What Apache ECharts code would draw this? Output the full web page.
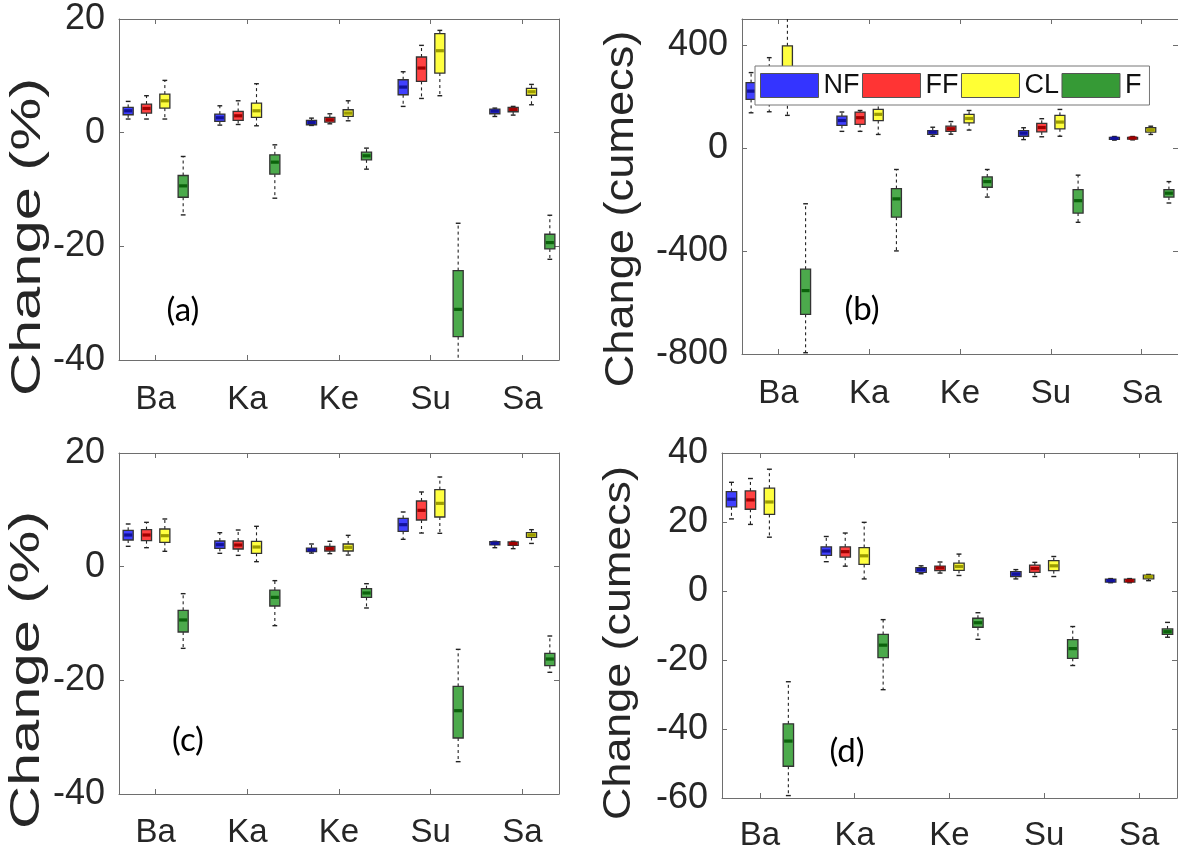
<!DOCTYPE html>
<html>
<head>
<meta charset="utf-8">
<script src="https://cdn.jsdelivr.net/npm/echarts@6/dist/echarts.min.js"></script>
<style>
  html, body { margin: 0; padding: 0; background: #fff; }
  #chart { width: 1178px; height: 856px; }
</style>
</head>
<body>
<div id="chart"></div>
<script>
// Stations along the x axis and the four scenarios drawn in each group
const stations = ['Ba', 'Ka', 'Ke', 'Su', 'Sa'];
const scenarios = ['NF', 'FF', 'CL', 'F'];

// Box statistics per station: [min, q1, median, q3, max]
// (a) change in %
const aNF = [[2.4, 3.15, 3.85, 4.44, 5.5], [1.33, 1.97, 2.62, 3.26, 4.73], [1.27, 1.39, 1.8, 2.15, 2.56], [4.62, 6.67, 8.02, 9.31, 10.72], [2.85, 3.33, 3.79, 4.15, 4.32]];
const aFF = [[2.4, 3.44, 4.26, 5.03, 6.5], [1.44, 2.15, 2.97, 3.73, 5.61], [1.56, 1.86, 2.27, 2.68, 3.32], [6.02, 9.02, 11.37, 13.31, 15.36], [3.09, 3.68, 4.09, 4.44, 4.62]];
const aCL = [[2.4, 4.32, 5.61, 6.79, 9.2], [1.21, 2.68, 3.85, 5.2, 8.61], [2.09, 2.86, 3.44, 4.03, 5.61], [6.5, 10.49, 14.42, 17.42, 18.0], [4.91, 6.58, 7.2, 7.79, 8.49]];
const aF = [[-14.47, -11.36, -9.36, -7.54, -4.19], [-11.53, -7.3, -5.19, -3.9, -2.14], [-6.42, -4.78, -4.07, -3.43, -2.72], [-42, -35.9, -31.09, -24.27, -15.94], [-22.28, -20.46, -19.34, -17.87, -14.53]];

// (b) change in cumecs
const bNF = [[136, 188, 220, 253, 292], [64, 87, 106, 123, 139], [45, 52, 61, 67, 80], [32, 45, 57, 67, 78], [30, 33, 37, 41, 44]];
const bFF = [[140, 195, 240, 290, 350], [64, 91, 117, 139, 145], [53, 64, 74, 84, 102], [43, 62, 79, 95, 113], [31, 34, 38, 41, 44]];
const bCL = [[126, 210, 290, 396, 520], [52, 106, 130, 149, 180], [69, 97, 114, 130, 145], [45, 74, 100, 126, 149], [52, 61, 70, 78, 84]];
const bF = [[-795, -646, -554, -471, -217], [-400, -269, -198, -158, -84], [-191, -153, -131, -113, -84], [-289, -253, -205, -162, -106], [-214, -191, -176, -162, -131]];

// (c) change in %
const cNF = [[3.58, 4.69, 5.57, 6.39, 7.51], [2.35, 3.23, 3.87, 4.52, 5.98], [2.39, 2.63, 2.93, 3.28, 3.99], [4.81, 6.22, 7.39, 8.5, 9.62], [3.34, 3.86, 4.11, 4.4, 4.46]];
const cFF = [[3.34, 4.57, 5.57, 6.51, 7.8], [1.99, 3.11, 3.81, 4.52, 6.45], [2.29, 2.76, 3.17, 3.58, 4.46], [5.92, 8.21, 9.91, 11.55, 13.14], [3.17, 3.74, 4.05, 4.34, 4.46]];
const cCL = [[2.7, 4.28, 5.45, 6.63, 8.39], [0.88, 2.35, 3.46, 4.46, 7.1], [2.05, 2.76, 3.4, 3.99, 5.51], [5.87, 8.74, 11.14, 13.55, 15.78], [4.09, 5.15, 5.57, 5.98, 6.51]];
const cF = [[-14.37, -11.5, -9.38, -7.68, -4.75], [-10.38, -6.92, -5.4, -4.11, -2.46], [-7.27, -5.4, -4.63, -3.87, -3.0], [-34.31, -30.15, -25.34, -21.06, -14.55], [-18.59, -17.42, -16.25, -15.25, -12.2]];

// (d) change in cumecs
const dNF = [[20.9, 24.4, 26.6, 28.8, 31.5], [8.5, 10.3, 11.6, 12.8, 15.8], [5.0, 5.4, 6.2, 6.8, 7.3], [3.5, 4.2, 4.9, 5.6, 6.2], [2.4, 2.6, 3.0, 3.4, 3.6]];
const dFF = [[19.3, 23.7, 26.4, 29.0, 32.6], [7.2, 9.8, 11.4, 12.8, 16.8], [5.2, 5.9, 6.7, 7.2, 8.4], [4.2, 5.4, 6.5, 7.5, 8.3], [2.4, 2.6, 3.0, 3.4, 3.6]];
const dCL = [[15.6, 22.2, 25.8, 29.8, 35.3], [3.5, 7.7, 10.2, 12.6, 19.9], [4.5, 6.0, 7.1, 8.1, 10.7], [4.2, 5.9, 7.3, 8.8, 10.0], [3.0, 3.5, 4.2, 4.6, 4.8]];
const dF = [[-59.3, -50.8, -43.5, -38.5, -26.3], [-28.6, -19.3, -15.7, -12.6, -8.3], [-14.0, -10.5, -9.2, -7.9, -6.3], [-21.6, -19.5, -16.7, -14.1, -10.3], [-13.4, -12.6, -11.8, -11.0, -9.1]];

// Y tick labels per panel
const pctTicks = [-40, -20, 0, 20];
const flowTicksB = [-800, -400, 0, 400];
const flowTicksD = [-60, -40, -20, 0, 20, 40];

// Styling
const boxFill = ['#4040ff', '#ff4242', '#ffff40', '#4caa4c'];
const medianColor = ['#12129a', '#a00000', '#9c9c00', '#0b620b'];
const legendFill = ['#3434ff', '#ff3434', '#ffff34', '#369a36'];
const axisGrey = '#6e6e6e';
const textDark = '#262626';

const panels = [
  { sets: [aNF, aFF, aCL, aF], min: -40, max: 20, ticks: pctTicks,
    grid: { left: 119, top: 19, width: 440, height: 341 }, labelMargin: 23 },
  { sets: [bNF, bFF, bCL, bF], min: -800, max: 500, ticks: flowTicksB,
    grid: { left: 742, top: 19, width: 440, height: 335 }, labelMargin: 23 },
  { sets: [cNF, cFF, cCL, cF], min: -40, max: 20, ticks: pctTicks,
    grid: { left: 119, top: 453, width: 440, height: 341 }, labelMargin: 22 },
  { sets: [dNF, dFF, dCL, dF], min: -60, max: 40, ticks: flowTicksD,
    grid: { left: 722, top: 453, width: 455, height: 345 }, labelMargin: 21 }
];

// Group centres: four boxes per station, one empty slot between stations
const groupCentres = stations.map((_, g) => 5 * g + 2.5);

function makeBoxRenderer(s) {
  return function (params, api) {
    const x = api.value(0);
    const lo = api.coord([x, api.value(1)]);
    const q1 = api.coord([x, api.value(2)]);
    const md = api.coord([x, api.value(3)]);
    const q3 = api.coord([x, api.value(4)]);
    const hi = api.coord([x, api.value(5)]);
    const unit = api.size([1, 0])[0];
    const bw = unit * 0.55;
    const cw = unit * 0.26;
    const cx = lo[0];
    const whisker = { stroke: '#222', lineWidth: 1.1, lineDash: [3, 3] };
    const cap = { stroke: '#222', lineWidth: 1.4 };
    return {
      type: 'group',
      children: [
        { type: 'line', shape: { x1: cx, y1: q3[1], x2: cx, y2: hi[1] }, style: whisker },
        { type: 'line', shape: { x1: cx, y1: q1[1], x2: cx, y2: lo[1] }, style: whisker },
        { type: 'line', shape: { x1: cx - cw / 2, y1: hi[1], x2: cx + cw / 2, y2: hi[1] }, style: cap },
        { type: 'line', shape: { x1: cx - cw / 2, y1: lo[1], x2: cx + cw / 2, y2: lo[1] }, style: cap },
        { type: 'rect', shape: { x: cx - bw / 2, y: q3[1], width: bw, height: Math.max(q1[1] - q3[1], 1) },
          style: { fill: boxFill[s], stroke: '#333', lineWidth: 1.3 } },
        { type: 'line', shape: { x1: cx - bw / 2 + 1, y1: md[1], x2: cx + bw / 2 - 1, y2: md[1] },
          style: { stroke: medianColor[s], lineWidth: 3.2 } }
      ]
    };
  };
}

const grid = [], xAxis = [], yAxis = [], series = [];
const tickFont = { fontFamily: 'Liberation Sans', color: textDark };

panels.forEach((p, i) => {
  grid.push(Object.assign({ containLabel: false }, p.grid));
  const baseX = {
    type: 'value', gridIndex: i, min: 0.5, max: 24.5,
    axisLine: { show: true, onZero: false, lineStyle: { color: axisGrey, width: 1 } },
    axisTick: { show: true, inside: true, length: 5, customValues: groupCentres, lineStyle: { color: axisGrey } },
    splitLine: { show: false }
  };
  xAxis.push(Object.assign({}, baseX, {
    position: 'bottom',
    axisLabel: Object.assign({
      show: true, fontSize: 33, margin: p.labelMargin, customValues: groupCentres,
      formatter: v => stations[Math.round((v - 2.5) / 5)]
    }, tickFont)
  }));
  xAxis.push(Object.assign({}, baseX, { position: 'top', axisLabel: { show: false } }));

  const baseY = {
    type: 'value', gridIndex: i, min: p.min, max: p.max,
    axisLine: { show: true, onZero: false, lineStyle: { color: axisGrey, width: 1 } },
    axisTick: { show: true, inside: true, length: 5, customValues: p.ticks, lineStyle: { color: axisGrey } },
    splitLine: { show: false }
  };
  yAxis.push(Object.assign({}, baseY, {
    position: 'left',
    axisLabel: Object.assign({ show: true, fontSize: 36, margin: 14, customValues: p.ticks }, tickFont)
  }));
  yAxis.push(Object.assign({}, baseY, { position: 'right', axisLabel: { show: false } }));

  p.sets.forEach((set, s) => {
    series.push({
      type: 'custom',
      name: scenarios[s],
      xAxisIndex: 2 * i,
      yAxisIndex: 2 * i,
      clip: true,
      itemStyle: { color: legendFill[s] },
      encode: { x: 0, y: [1, 2, 3, 4, 5] },
      renderItem: makeBoxRenderer(s),
      data: set.map((b, g) => [5 * g + s + 1].concat(b))
    });
  });
});

// Rotated axis titles and panel tags
function yTitle(text, x, y, size, stretch) {
  return {
    type: 'text', x: x, y: y, rotation: Math.PI / 2, scaleX: stretch, scaleY: 1,
    style: { text: text, fontSize: size, fontFamily: 'Liberation Sans', fill: textDark,
             align: 'center', verticalAlign: 'middle' }
  };
}
function tag(text, x, y) {
  return {
    type: 'text', x: x, y: y,
    style: { text: text, fontSize: 33, fontFamily: 'Lato', fill: '#000',
             align: 'center', verticalAlign: 'middle' }
  };
}

const chart = echarts.init(document.getElementById('chart'), null, { renderer: 'canvas' });
chart.setOption({
  backgroundColor: '#fff',
  animation: false,
  grid: grid,
  xAxis: xAxis,
  yAxis: yAxis,
  series: series,
  legend: {
    left: 755, top: 66,
    orient: 'horizontal',
    itemWidth: 58, itemHeight: 24, itemGap: 2.5,
    padding: [6, 8, 6, 5],
    borderColor: '#777', borderWidth: 1,
    backgroundColor: '#fff',
    selectedMode: false,
    icon: 'rect',
    textStyle: { fontSize: 27, fontFamily: 'Liberation Sans', color: '#111' },
    data: scenarios.map((n, i) => ({ name: n, itemStyle: { color: legendFill[i], borderColor: '#555', borderWidth: 1 } }))
  },
  graphic: [
    yTitle('Change (%)', 28, 237, 42, 1.42),
    yTitle('Change (cumecs)', 622, 209, 40, 1.13),
    yTitle('Change (%)', 27, 670, 42, 1.42),
    yTitle('Change (cumecs)', 620, 643, 38, 1.18),
    tag('(a)', 183, 310),
    tag('(b)', 862, 309),
    tag('(c)', 188, 740),
    tag('(d)', 847, 751)
  ]
});
</script>
</body>
</html>
